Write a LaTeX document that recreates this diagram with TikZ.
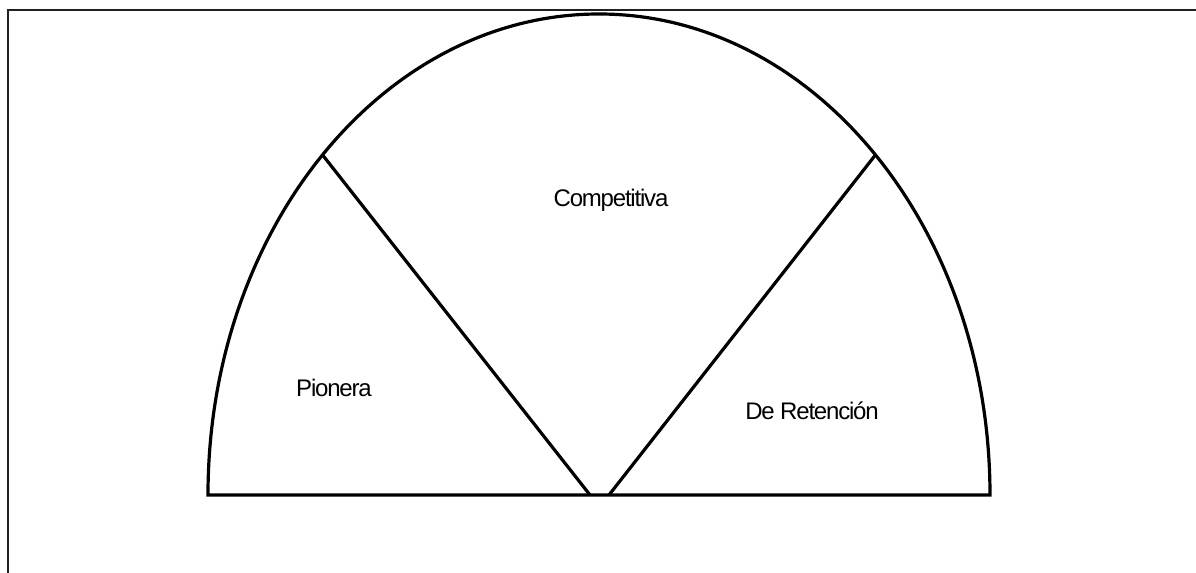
\documentclass[tikz,border=0pt]{standalone}
\usepackage{fontspec}
\setmainfont{Liberation Sans}
\newfontfamily\lblfont[LetterSpace=-5]{Liberation Sans}
\usepackage{tikz}
\usetikzlibrary{positioning,calc}
\definecolor{framegray}{RGB}{35,31,32}

\begin{document}
\begin{tikzpicture}[
        x=0.5pt, y=0.5pt,
        lbl/.style={anchor=base, inner sep=0pt,
                    font=\lblfont\fontsize{12}{14}\selectfont},
        outline/.style={line width=1.6pt, black, line join=miter},
        frameline/.style={line width=1pt, framegray}
      ]
        \useasboundingbox (0,0) rectangle (1196,573);
        % frame
        \draw[frameline] (8,0) -- (8,562.5) -- (1196,562.5);
        % half ellipse
        \coordinate (c) at (599,78);
        \coordinate (lft) at (208,78);
        \coordinate (rgt) at (990,78);
        \coordinate (lp) at ($(c)+(135:391 and 481)$);
        \coordinate (rp) at ($(c)+(45:391 and 481)$);
        \coordinate (lb) at (590,78);
        \coordinate (rb) at (609,78);
        \draw[outline] (lft) arc[start angle=180, end angle=0,
          x radius=391, y radius=481] -- cycle;
        \draw[outline] (lp) -- (lb);
        \draw[outline] (rp) -- (rb);
        % labels
        \node[lbl] (comp) at (611,366) {Competitiva};
        \node[lbl] (pion) at (334,176) {Pionera};
        \node[lbl] (ret)  at (812,153) {De Retención};
      \end{tikzpicture}
\end{document}
